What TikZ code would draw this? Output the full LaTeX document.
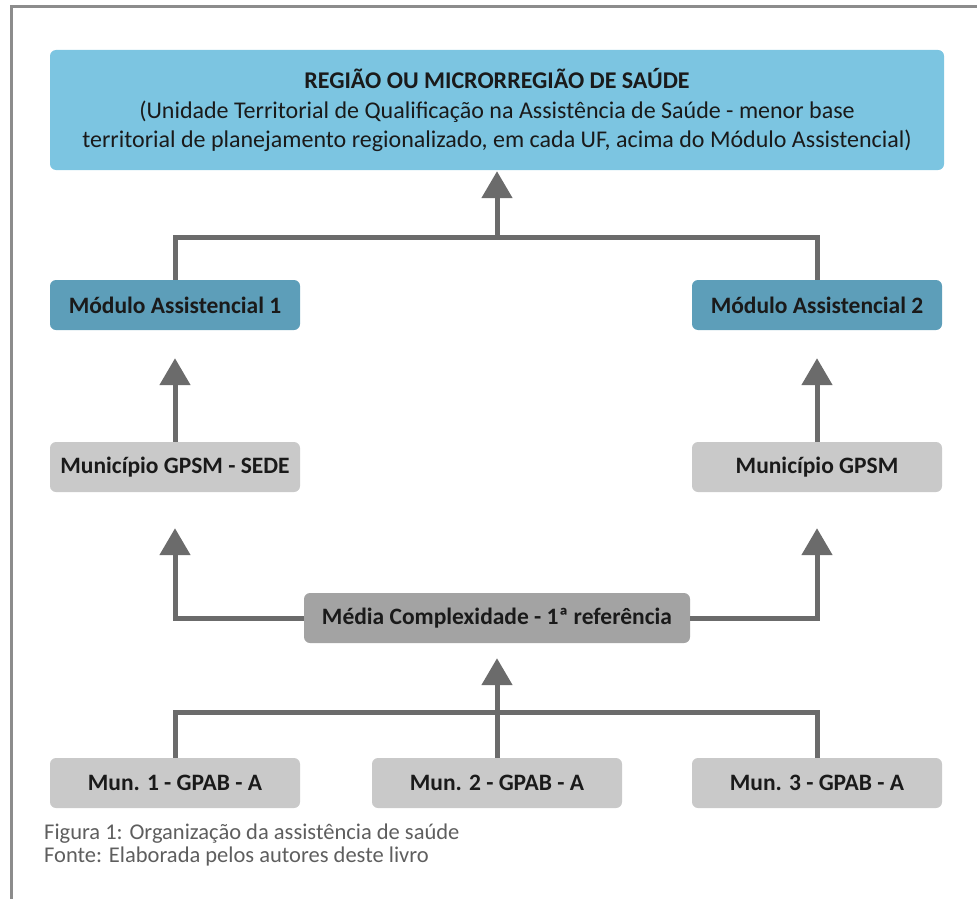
\documentclass[tikz,border=0pt]{standalone}
\usepackage{fontspec}
\setmainfont{Carlito}
\usetikzlibrary{arrows.meta}
\definecolor{framegray}{HTML}{8C8C8C}
\definecolor{topblue}{HTML}{7CC5E1}
\definecolor{modblue}{HTML}{5D9EB9}
\definecolor{lightbox}{HTML}{C9C9C9}
\definecolor{midbox}{HTML}{A3A3A3}
\definecolor{linegray}{HTML}{6B6B6B}
\definecolor{txt}{HTML}{1A1A1A}
\definecolor{captxt}{HTML}{5E5E5E}
\tikzset{
  box/.style={rounded corners=6pt, inner sep=0pt, text=txt,
    font=\fontsize{23.5}{28}\selectfont\bfseries, align=center},
  topbox/.style={box, font=\fontsize{24}{29}\selectfont\bfseries},
  conn/.style={draw=linegray, line width=5pt},
  arr/.style={conn, -{Triangle[length=27pt,width=30pt]}},
  captext/.style={anchor=base west, inner sep=0pt, text=captxt,
    font=\fontsize{22.5}{24}\selectfont}
}
\begin{document}
\begin{tikzpicture}[x=1pt,y=-1pt]
\useasboundingbox (0,0) rectangle (977,899);
% frame
\draw[framegray, line width=3pt] (11,899) -- (11,7) -- (977,7);
% nodes
\node[topbox, fill=topblue, minimum width=894pt, minimum height=120pt] (top) at (497,110)
  {REGIÃO OU MICRORREGIÃO DE SAÚDE\\[0.5pt]
   {\mdseries (Unidade Territorial de Qualificação na Assistência de Saúde - menor base}\\[0.5pt]
   {\mdseries territorial de planejamento regionalizado, em cada UF, acima do Módulo Assistencial)}};
\node[box, fill=modblue, minimum width=250pt, minimum height=50pt] (mod1) at (175,305) {Módulo Assistencial 1};
\node[box, fill=modblue, minimum width=250pt, minimum height=50pt] (mod2) at (817,305) {Módulo Assistencial 2};
\node[box, fill=lightbox, minimum width=250pt, minimum height=50pt] (mg1) at (175,467) {Município GPSM - SEDE};
\node[box, fill=lightbox, minimum width=250pt, minimum height=50pt] (mg2) at (817,467) {Município GPSM};
\node[box, fill=midbox, minimum width=386pt, minimum height=50pt] (media) at (497,618) {Média Complexidade - 1ª referência};
\node[box, fill=lightbox, minimum width=250pt, minimum height=50pt] (b1) at (175,783) {Mun. 1 - GPAB - A};
\node[box, fill=lightbox, minimum width=250pt, minimum height=50pt] (b2) at (497,783) {Mun. 2 - GPAB - A};
\node[box, fill=lightbox, minimum width=250pt, minimum height=50pt] (b3) at (817,783) {Mun. 3 - GPAB - A};
\coordinate (jt) at (497,237);
\coordinate (jb) at (497,712);
% connectors
\draw[conn] (mod1.north) |- (jt) -| (mod2.north);
\draw[arr, shorten >=1pt] (jt) -- (top.south);
\draw[arr, shorten >=28pt] (mg1.north) -- (mod1.south);
\draw[arr, shorten >=28pt] (mg2.north) -- (mod2.south);
\draw[arr, shorten >=36pt] (media.west) -| (mg1.south);
\draw[arr, shorten >=36pt] (media.east) -| (mg2.south);
\draw[conn] (b1.north) |- (jb) -| (b3.north);
\draw[conn] (b2.north) -- (jb);
\draw[arr, shorten >=15pt] (jb) -- (media.south);
% caption
\node[captext] (cap1) at (44,839) {Figura 1: Organização da assistência de saúde};
\node[captext] (cap2) at (44,862) {Fonte: Elaborada pelos autores deste livro};
\end{tikzpicture}
\end{document}
